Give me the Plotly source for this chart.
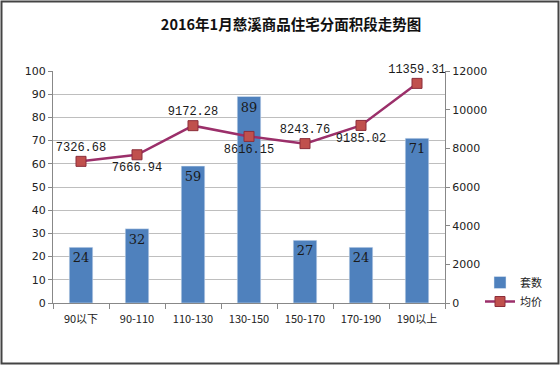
import plotly.graph_objects as go

categories = ["90以下", "90-110", "110-130", "130-150", "150-170", "170-190", "190以上"]
counts = [24, 32, 59, 89, 27, 24, 71]
prices = [7326.68, 7666.94, 9172.28, 8616.15, 8243.76, 9185.02, 11359.31]
price_pos = ["top center", "bottom center", "top center", "bottom center",
             "top center", "bottom center", "top center"]

W, H = 560, 365
L, R, T, B = 53, 115, 71, 62
pw, ph = W - L - R, H - T - B

fig = go.Figure()
fig.add_trace(go.Bar(
    x=categories, y=counts, name="套数",
    marker=dict(color="#4F81BD"), width=0.42,
    text=[str(v) for v in counts], textposition="inside", insidetextanchor="end",
    textfont=dict(color="#1a1a1a", size=13, family="DejaVu Serif"),
    cliponaxis=False,
))
fig.add_trace(go.Scatter(
    x=categories, y=prices, name="均价", yaxis="y2",
    mode="lines+markers+text",
    line=dict(color="#9B2F6A", width=2.5),
    marker=dict(symbol="square", size=10, color="#C0504D", line=dict(color="#8B2D3A", width=1)),
    text=[f"{v:.2f}" for v in prices], textposition=price_pos,
    textfont=dict(color="#1a1a1a", size=12, family="Liberation Mono, DejaVu Sans Mono"),
    cliponaxis=False,
))

fig.update_layout(
    width=W, height=H,
    margin=dict(l=L, r=R, t=T, b=B, autoexpand=False),
    paper_bgcolor="white", plot_bgcolor="white",
    title=dict(text="<b>2016年1月慈溪商品住宅分面积段走势图</b>", x=291 / W, xanchor="center",
               y=1 - 25 / H, yanchor="middle",
               font=dict(size=14.5, color="#111", family="Noto Sans CJK SC")),
    font=dict(family="Noto Sans CJK SC, DejaVu Sans", size=11, color="#222"),
    xaxis=dict(showline=True, linecolor="#888", ticks="outside", tickcolor="#888",
               tickson="boundaries", ticklen=5, showgrid=False, ticklabelstandoff=6,
               tickfont=dict(size=11, color="#222")),
    yaxis=dict(range=[0, 100], dtick=10, showline=True, linecolor="#888",
               ticks="outside", tickcolor="#888", ticklen=4,
               gridcolor="#BEBEBE", gridwidth=1, zeroline=False,
               tickfont=dict(size=11, color="#222", family="DejaVu Sans")),
    yaxis2=dict(range=[0, 12000], dtick=2000, overlaying="y", side="right", tickformat="d",
                showline=True, linecolor="#888", ticks="outside", tickcolor="#888", ticklen=4,
                showgrid=False, zeroline=False,
                tickfont=dict(size=11, color="#222", family="DejaVu Sans")),
    legend=dict(xref="container", yref="container", x=480 / W, y=(H - 316) / H,
                xanchor="left", yanchor="bottom",
                bgcolor="rgba(0,0,0,0)", font=dict(size=11, color="#222"),
                tracegroupgap=10),
    bargap=0.58,
    showlegend=True,
)

fig.add_shape(type="rect", xref="paper", yref="paper",
              x0=-(L - 1.5) / pw, x1=(W - 1.5 - L) / pw,
              y0=-(B - 1.5) / ph, y1=1 + (T - 1.5) / ph,
              line=dict(color="#444", width=2), fillcolor="rgba(0,0,0,0)", layer="above")

fig.write_html(
    "out.html",
    config={"displayModeBar": False},
    post_script=("document.documentElement.style.overflow='hidden';"
                 "document.body.style.margin='0';document.body.style.overflow='hidden';"),
)
